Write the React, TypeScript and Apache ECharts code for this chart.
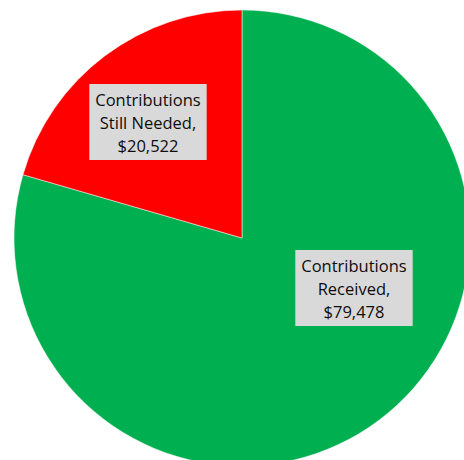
import React, { useEffect, useRef } from "react";
import * as echarts from "echarts";

const categories = ["Contributions Received", "Contributions Still Needed"];
const labelNames = ["Contributions\nReceived,", "Contributions\nStill Needed,"];
const values = [79478, 20522];
const colors = ["#00B050", "#FF0000"];
const labelPositions = [
  [354, 288],
  [148, 122],
];

export default function App() {
  const ref = useRef<HTMLDivElement>(null);
  useEffect(() => {
    if (!ref.current) return;
    const chart = echarts.init(ref.current, undefined, { renderer: "svg" });
    chart.setOption({
      animation: false,
      backgroundColor: "#ffffff",
      series: [
        {
          type: "pie",
          center: [242, 238],
          radius: 228,
          startAngle: 90,
          clockwise: true,
          avoidLabelOverlap: false,
          itemStyle: { borderColor: "#ffffff", borderWidth: 0.5 },
          emphasis: { disabled: true },
          label: {
            show: true,
            position: "inside",
            fontFamily: "Open Sans",
            fontSize: 16.5,
            lineHeight: 23,
            color: "#0d0d0d",
            backgroundColor: "#d9d9d9",
            padding: [4, 6, 3, 6],
            align: "center",
            verticalAlign: "middle",
            formatter: (p: any) =>
              labelNames[p.dataIndex] + "\n$" + Number(p.value).toLocaleString("en-US"),
          },
          labelLine: { show: false },
          labelLayout: (p: any) => ({
            x: labelPositions[p.dataIndex][0],
            y: labelPositions[p.dataIndex][1],
          }),
          data: categories.map((c, i) => ({
            name: c,
            value: values[i],
            itemStyle: { color: colors[i] },
          })),
        },
      ],
    });
    return () => chart.dispose();
  }, []);
  return (
    <div
      ref={ref}
      style={{ position: "fixed", left: 0, top: 0, width: 464, height: 460 }}
    />
  );
}
